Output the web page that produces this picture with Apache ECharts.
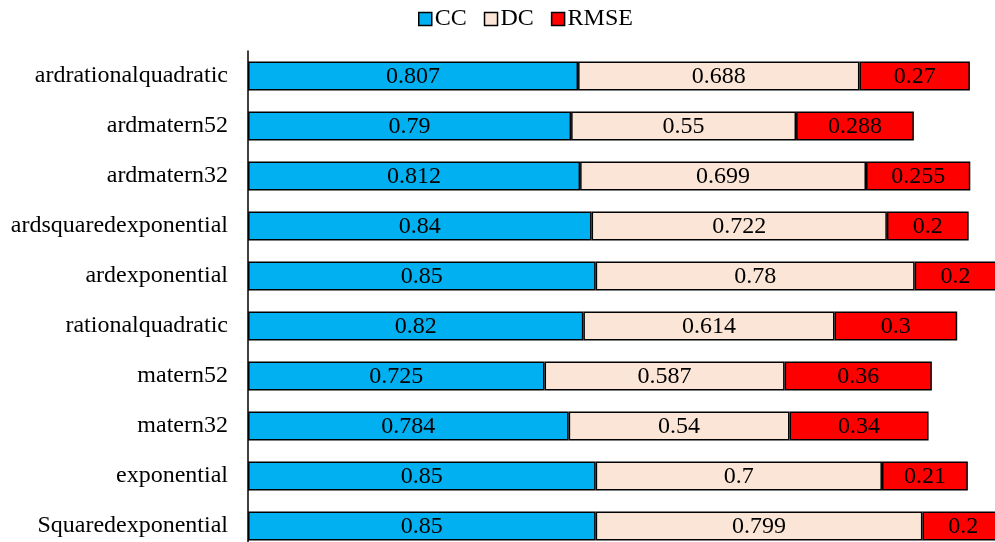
<!DOCTYPE html>
<html>
<head>
<meta charset="utf-8">
<script src="https://cdn.jsdelivr.net/npm/echarts@6/dist/echarts.min.js"></script>
<style>
html,body{margin:0;padding:0;background:#fff;}
#chart{width:995px;height:542px;}
</style>
</head>
<body>
<div id="chart"></div>
<script>
// categories, top to bottom
var categories = ['ardrationalquadratic', 'ardmatern52', 'ardmatern32', 'ardsquaredexponential', 'ardexponential',
	'rationalquadratic', 'matern52', 'matern32', 'exponential', 'Squaredexponential'];
var ccValues = [0.807, 0.79, 0.812, 0.84, 0.85, 0.82, 0.725, 0.784, 0.85, 0.85];
var dcValues = [0.688, 0.55, 0.699, 0.722, 0.78, 0.614, 0.587, 0.54, 0.7, 0.799];
var rmseValues = [0.27, 0.288, 0.255, 0.2, 0.2, 0.3, 0.36, 0.34, 0.21, 0.2];

var font = '"Liberation Serif", "Times New Roman", serif';

function makeSeries(name, data, color) {
	return {
		name: name,
		type: 'bar',
		stack: 'total',
		barWidth: '58%',
		data: data,
		itemStyle: {
			color: color,
			borderColor: '#000',
			borderWidth: 1.5
		},
		label: {
			show: true,
			position: 'inside',
			offset: [0, 1],
			color: '#000',
			fontFamily: font,
			fontSize: 24
		}
	};
}

var myChart = echarts.init(document.getElementById('chart'));
var option = {
	animation: false,
	textStyle: { fontFamily: font },
	legend: {
		top: 2,
		left: 413,
		itemWidth: 13,
		itemHeight: 13,
		itemGap: 17,
		icon: 'rect',
		textStyle: { fontFamily: font, fontSize: 24, color: '#000', padding: [0, 0, 0, -2] },
		itemStyle: { borderColor: '#000', borderWidth: 1.5 },
		data: ['CC', 'DC', 'RMSE']
	},
	grid: {
		left: 248,
		top: 51,
		width: 818,
		height: 500,
		outerBoundsMode: 'none',
		containLabel: false
	},
	xAxis: {
		type: 'value',
		min: 0,
		max: 2,
		show: false
	},
	yAxis: {
		type: 'category',
		inverse: true,
		data: categories,
		axisLine: { show: true, lineStyle: { color: '#000', width: 1.5 } },
		axisTick: { show: false },
		axisLabel: {
			color: '#000',
			fontFamily: font,
			fontSize: 24,
			margin: 20
		}
	},
	series: [
		makeSeries('CC', ccValues, '#00B0F0'),
		makeSeries('DC', dcValues, '#FBE5D6'),
		makeSeries('RMSE', rmseValues, '#FF0000')
	]
};
myChart.setOption(option);
</script>
</body>
</html>
